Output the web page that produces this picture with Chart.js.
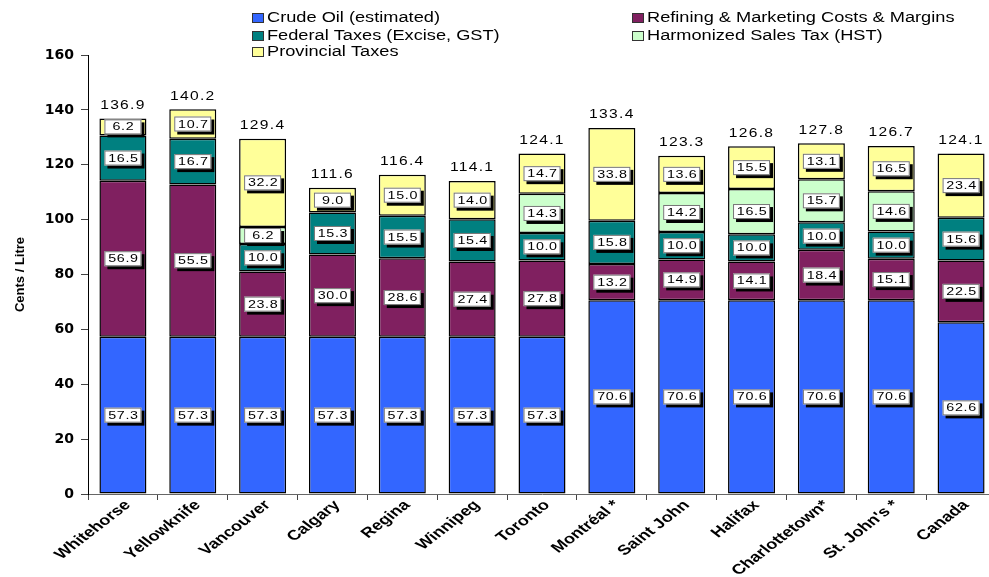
<!DOCTYPE html>
<html>
<head>
<meta charset="utf-8">
<script src="https://cdn.jsdelivr.net/npm/chart.js@4/dist/chart.umd.min.js"></script>
<style>
  body { margin: 0; background: #fff; overflow: hidden; }
  #wrap { position: absolute; left: 0; top: 0; width: 1000px; height: 577px; }
</style>
</head>
<body>
<div id="wrap"><canvas id="chart" width="1000" height="577"></canvas></div>
<script>
// categories and values
const cities = ['Whitehorse', 'Yellowknife', 'Vancouver', 'Calgary', 'Regina', 'Winnipeg', 'Toronto',
  'Montréal *', 'Saint John', 'Halifax', 'Charlottetown*', "St. John's *", 'Canada'];
const crudeOil = [57.3, 57.3, 57.3, 57.3, 57.3, 57.3, 57.3, 70.6, 70.6, 70.6, 70.6, 70.6, 62.6];
const refining = [56.9, 55.5, 23.8, 30.0, 28.6, 27.4, 27.8, 13.2, 14.9, 14.1, 18.4, 15.1, 22.5];
const federalTax = [16.5, 16.7, 10.0, 15.3, 15.5, 15.4, 10.0, 15.8, 10.0, 10.0, 10.0, 10.0, 15.6];
const hst = [null, null, 6.2, null, null, null, 14.3, null, 14.2, 16.5, 15.7, 14.6, null];
const provincialTax = [6.2, 10.7, 32.2, 9.0, 15.0, 14.0, 14.7, 33.8, 13.6, 15.5, 13.1, 16.5, 23.4];
const totals = [136.9, 140.2, 129.4, 111.6, 116.4, 114.1, 124.1, 133.4, 123.3, 126.8, 127.8, 126.7, 124.1];

const colors = {
  crude: '#3366FF',
  refining: '#802060',
  federal: '#008080',
  hst: '#CCFFCC',
  provincial: '#FFFF99'
};

// the original is a bit stretched sideways, so text drawn by hand gets squeezed out too
function wideText(ctx, txt, x, y, font, align) {
  ctx.save();
  ctx.translate(x, y);
  ctx.scale(1.3, 1);
  ctx.font = font;
  ctx.textAlign = align || 'center';
  ctx.textBaseline = 'middle';
  ctx.fillStyle = '#000';
  ctx.fillText(txt, 0, 0);
  ctx.restore();
}

function drawBox(ctx, x, y, txt) {
  const w = 37, h = 15;
  ctx.fillStyle = '#000';
  ctx.fillRect(x - w / 2 + 3, y - h / 2 + 3, w, h);
  ctx.fillStyle = '#fff';
  ctx.fillRect(x - w / 2, y - h / 2, w, h);
  ctx.strokeStyle = '#777';
  ctx.lineWidth = 1;
  ctx.strokeRect(x - w / 2 + 0.5, y - h / 2 + 0.5, w - 1, h - 1);
  ctx.letterSpacing = '0.5px';
  wideText(ctx, txt, x + 0.5, y + 0.5, '11px "Liberation Sans"');
  ctx.letterSpacing = '0px';
}

const labelPlugin = {
  id: 'segLabels',
  afterDatasetsDraw(chart) {
    const ctx = chart.ctx;
    ctx.save();
    chart.data.datasets.forEach((ds, di) => {
      const meta = chart.getDatasetMeta(di);
      meta.data.forEach((bar, i) => {
        if (ds.data[i] == null) return;
        drawBox(ctx, bar.x, (bar.y + bar.base) / 2, ds.data[i].toFixed(1));
      });
    });
    // totals above each stack
    totals.forEach((t, i) => {
      let top = Infinity;
      chart.data.datasets.forEach((ds, di) => {
        if (ds.data[i] == null) return;
        top = Math.min(top, chart.getDatasetMeta(di).data[i].y);
      });
      const x = chart.getDatasetMeta(0).data[i].x;
      ctx.letterSpacing = '1px';
      wideText(ctx, t.toFixed(1), x, top - 13, '12px "Liberation Sans"');
      ctx.letterSpacing = '0px';
    });
    ctx.restore();
  }
};

// category names, slanted and stretched like the source image
const xLabelPlugin = {
  id: 'slantLabels',
  afterDraw(chart) {
    const ctx = chart.ctx;
    const xs = chart.scales.x;
    ctx.save();
    cities.forEach((name, i) => {
      const x = xs.getPixelForTick(i) + 5;
      const y = xs.top + 9;
      ctx.save();
      ctx.translate(x, y);
      ctx.scale(1.3, 1);
      ctx.rotate(-Math.PI / 4);
      ctx.font = 'bold 14px "Liberation Sans"';
      ctx.textAlign = 'right';
      ctx.textBaseline = 'middle';
      ctx.fillStyle = '#000';
      ctx.fillText(name, 0, 0);
      ctx.restore();
    });
    ctx.restore();
  }
};

// two column legend like the original
const legendPlugin = {
  id: 'twoColLegend',
  afterDraw(chart) {
    const ctx = chart.ctx;
    const items = [
      { text: 'Crude Oil (estimated)', color: colors.crude, x: 252, y: 18 },
      { text: 'Refining & Marketing Costs & Margins', color: colors.refining, x: 632, y: 18 },
      { text: 'Federal Taxes (Excise, GST)', color: colors.federal, x: 252, y: 36 },
      { text: 'Harmonized Sales Tax (HST)', color: colors.hst, x: 632, y: 36 },
      { text: 'Provincial Taxes', color: colors.provincial, x: 252, y: 52 }
    ];
    ctx.save();
    items.forEach(it => {
      ctx.fillStyle = it.color;
      ctx.fillRect(it.x, it.y - 5, 12, 10);
      ctx.strokeStyle = '#333';
      ctx.lineWidth = 1;
      ctx.strokeRect(it.x + 0.5, it.y - 4.5, 11, 9);
      wideText(ctx, it.text, it.x + 15, it.y, '14px "Liberation Sans"', 'left');
    });
    ctx.restore();
  }
};

const ctx = document.getElementById('chart');
new Chart(ctx, {
  type: 'bar',
  data: {
    labels: cities,
    datasets: [
      { label: 'Crude Oil (estimated)', data: crudeOil, backgroundColor: colors.crude },
      { label: 'Refining & Marketing Costs & Margins', data: refining, backgroundColor: colors.refining },
      { label: 'Federal Taxes (Excise, GST)', data: federalTax, backgroundColor: colors.federal },
      { label: 'Harmonized Sales Tax (HST)', data: hst, backgroundColor: colors.hst },
      { label: 'Provincial Taxes', data: provincialTax, backgroundColor: colors.provincial }
    ].map(d => Object.assign(d, {
      borderColor: '#000',
      borderWidth: 1.5,
      borderSkipped: false,
      categoryPercentage: 1,
      barPercentage: 0.673
    }))
  },
  options: {
    responsive: false,
    animation: false,
    layout: { padding: { top: 55, right: 4, left: 0, bottom: 0 } },
    plugins: {
      legend: { display: false },
      tooltip: { enabled: false }
    },
    scales: {
      x: {
        stacked: true,
        grid: { offset: true, drawOnChartArea: false, tickLength: 6, color: '#444' },
        border: { color: '#666', width: 1 },
        ticks: { display: false },
        afterFit(scale) { scale.height = 83; }
      },
      y: {
        stacked: true,
        min: 0,
        max: 160,
        grid: { drawOnChartArea: false, tickLength: 7, color: '#444' },
        border: { color: '#000', width: 1 },
        ticks: {
          stepSize: 20,
          padding: 7,
          color: '#000',
          font: { family: 'DejaVu Sans', weight: 'bold', size: 14 }
        },
        title: {
          display: true,
          text: 'Cents / Litre',
          color: '#000',
          padding: { top: 13, bottom: 0 },
          font: { family: 'Liberation Sans', weight: 'bold', size: 13 }
        },
        afterFit(scale) { scale.width = 88; }
      }
    }
  },
  plugins: [labelPlugin, xLabelPlugin, legendPlugin]
});
</script>
</body>
</html>
